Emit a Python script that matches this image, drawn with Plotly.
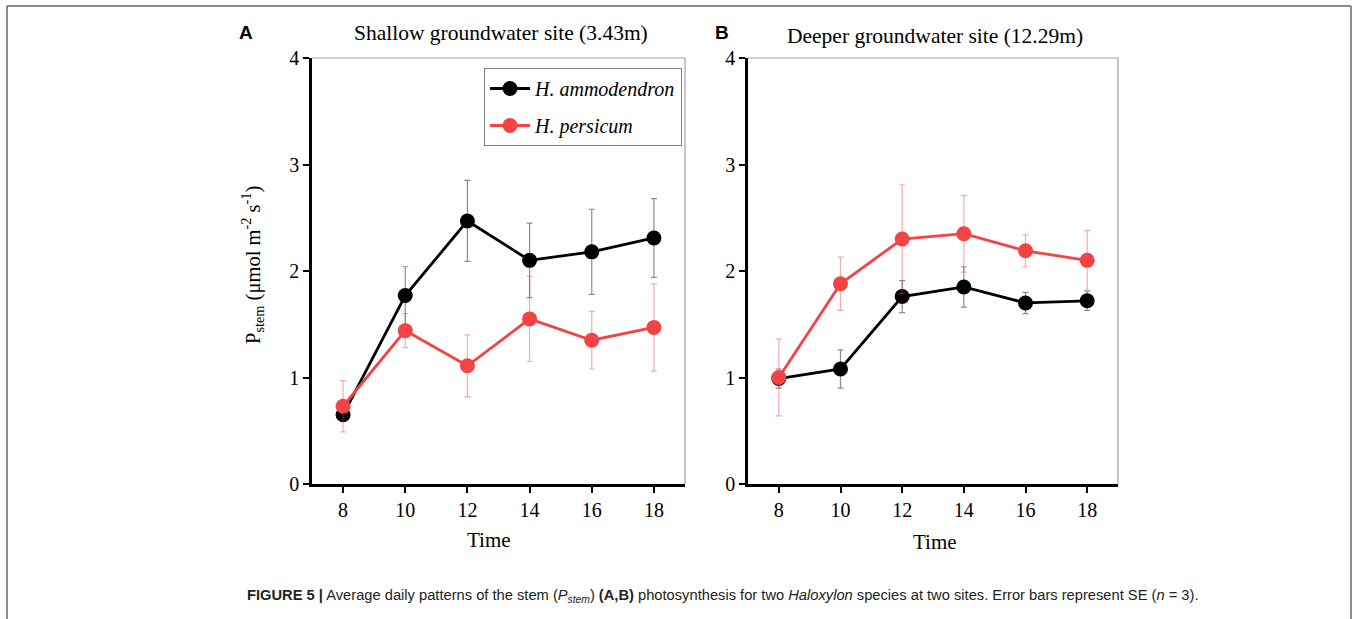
import plotly.graph_objects as go

time = [8, 10, 12, 14, 16, 18]

# Panel A: shallow groundwater site
a_ammo = [0.65, 1.77, 2.47, 2.10, 2.18, 2.31]
a_ammo_se = [0.06, 0.27, 0.38, 0.35, 0.40, 0.37]
a_pers = [0.73, 1.44, 1.11, 1.55, 1.35, 1.47]
a_pers_se = [0.24, 0.16, 0.29, 0.40, 0.27, 0.41]

# Panel B: deeper groundwater site
b_ammo = [0.99, 1.08, 1.76, 1.85, 1.70, 1.72]
b_ammo_se = [0.09, 0.18, 0.15, 0.19, 0.10, 0.09]
b_pers = [1.00, 1.88, 2.30, 2.35, 2.19, 2.10]
b_pers_se = [0.36, 0.25, 0.51, 0.36, 0.15, 0.28]

species = ["H. ammodendron", "H. persicum"]
y_ticks = [0, 1, 2, 3, 4]
x_ticks = [8, 10, 12, 14, 16, 18]

BLACK = "#000000"
RED = "#F24444"
SERIF = "Liberation Serif"
SANS = "Liberation Sans"

W, H = 1358, 619


def px_x(p):
    return p / W


def px_y(p):
    return 1 - p / H


fig = go.Figure()


def add_series(xa, ya, y, se, color, ecolor, name, show):
    fig.add_trace(go.Scatter(
        x=time, y=y, mode="lines+markers", name=name,
        xaxis=xa, yaxis=ya, showlegend=show, legendgroup=name,
        line=dict(color=color, width=2.8),
        marker=dict(color=color, size=15),
        error_y=dict(type="data", array=se, visible=True, color=ecolor,
                     thickness=1.2, width=3),
    ))


add_series("x", "y", a_ammo, a_ammo_se, BLACK, "rgba(0,0,0,0.45)", species[0], True)
add_series("x", "y", a_pers, a_pers_se, RED, "rgba(242,68,68,0.45)", species[1], True)
add_series("x2", "y2", b_ammo, b_ammo_se, BLACK, "rgba(0,0,0,0.45)", species[0], False)
add_series("x2", "y2", b_pers, b_pers_se, RED, "rgba(242,68,68,0.45)", species[1], False)

ydom = [px_y(484), px_y(58)]
axis_common = dict(
    showgrid=False, zeroline=False, showline=True, linecolor=BLACK, linewidth=2.5,
    ticks="outside", ticklen=6, tickwidth=2, tickcolor=BLACK, automargin=False,
    tickfont=dict(family=SERIF, size=20, color=BLACK),
)
fig.update_layout(
    xaxis=dict(domain=[px_x(312), px_x(685)], range=[7, 19], tickvals=x_ticks,
               anchor="y", **axis_common),
    yaxis=dict(domain=ydom, range=[0, 4], tickvals=y_ticks, anchor="x", **axis_common),
    xaxis2=dict(domain=[px_x(748), px_x(1118)], range=[7, 19], tickvals=x_ticks,
                anchor="y2", **axis_common),
    yaxis2=dict(domain=ydom, range=[0, 4], tickvals=y_ticks, anchor="x2", **axis_common),
)

# thin gray top/right frame lines
for xr, yr in (("x domain", "y domain"), ("x2 domain", "y2 domain")):
    fig.add_shape(type="line", xref=xr, yref=yr, x0=0, x1=1, y0=1, y1=1,
                  line=dict(color="#A0A0A0", width=1.2))
    fig.add_shape(type="line", xref=xr, yref=yr, x0=1, x1=1, y0=0, y1=1,
                  line=dict(color="#A0A0A0", width=1.2))

# outer figure frame (left, top, right)
fig.add_shape(type="line", xref="paper", yref="paper", x0=px_x(7), x1=px_x(7),
              y0=0, y1=px_y(6), line=dict(color="#666666", width=1.5))
fig.add_shape(type="line", xref="paper", yref="paper", x0=px_x(7), x1=px_x(1351),
              y0=px_y(6), y1=px_y(6), line=dict(color="#666666", width=1.5))
fig.add_shape(type="line", xref="paper", yref="paper", x0=px_x(1351), x1=px_x(1351),
              y0=0, y1=px_y(6), line=dict(color="#666666", width=1.5))

ann = []
ann.append(dict(text="<b>A</b>", x=px_x(246), y=px_y(32), font=dict(family=SANS, size=19)))
ann.append(dict(text="<b>B</b>", x=px_x(722), y=px_y(32), font=dict(family=SANS, size=19)))
ann.append(dict(text="Shallow groundwater site (3.43m)", x=px_x(501), y=px_y(33),
                font=dict(family=SERIF, size=21.5)))
ann.append(dict(text="Deeper groundwater site (12.29m)", x=px_x(935), y=px_y(36),
                font=dict(family=SERIF, size=21.5)))
ann.append(dict(text="Time", x=px_x(489), y=px_y(540), font=dict(family=SERIF, size=21)))
ann.append(dict(text="Time", x=px_x(935), y=px_y(542), font=dict(family=SERIF, size=21)))
ann.append(dict(text="P<sub>stem</sub> (μmol m<sup>-2</sup> s<sup>-1</sup>)",
                x=px_x(252), y=px_y(265), textangle=-90, font=dict(family=SERIF, size=20.5)))
ann.append(dict(
    text=("<b>FIGURE 5 |</b> Average daily patterns of the stem (<i>P<sub>stem</sub></i>) "
          "<b>(A,B)</b> photosynthesis for two <i>Haloxylon</i> species at two sites. "
          "Error bars represent SE (<i>n</i> = 3)."),
    x=px_x(245), y=px_y(596), xanchor="left", font=dict(family=SANS, size=14.7, color="#222222")))

for a in ann:
    a.setdefault("xanchor", "center")
    a.update(xref="paper", yref="paper", yanchor="middle", showarrow=False)
    a["font"].setdefault("color", BLACK)
    fig.add_annotation(**a)

fig.update_layout(
    width=W, height=H, margin=dict(l=0, r=0, t=0, b=0, pad=0, autoexpand=False),
    paper_bgcolor="white", plot_bgcolor="white",
    showlegend=True,
    legend=dict(
        x=px_x(484), y=px_y(68), xanchor="left", yanchor="top",
        bordercolor="#808080", borderwidth=1, bgcolor="white",
        font=dict(family=SERIF, size=20, color=BLACK, style="italic"),
        traceorder="grouped", tracegroupgap=8, itemwidth=40,
    ),
)

fig.write_html("out.html", config={"displayModeBar": False},
               post_script="document.body.style.margin='0';document.body.style.overflow='hidden';")
